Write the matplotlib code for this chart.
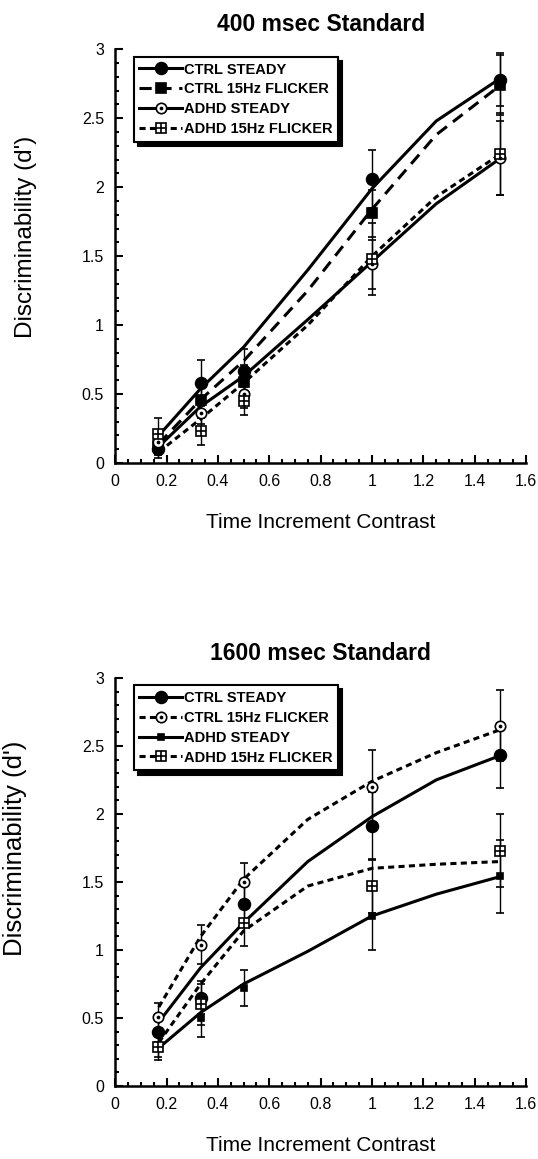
import matplotlib
matplotlib.use("Agg")
import matplotlib.pyplot as plt
from matplotlib.ticker import MultipleLocator, FuncFormatter
from matplotlib.lines import Line2D

plt.rcParams['font.family'] = ['Liberation Sans', 'DejaVu Sans']

# contrast levels (x) where the group means were measured
contrast = [0.167, 0.333, 0.5, 1.0, 1.5]
fit_x = [0.17, 0.333, 0.5, 0.75, 1.0, 1.25, 1.5]

labels_400 = ['CTRL STEADY', 'CTRL 15Hz FLICKER', 'ADHD STEADY', 'ADHD 15Hz FLICKER']
labels_1600 = ['CTRL STEADY', 'CTRL 15Hz FLICKER', 'ADHD STEADY', 'ADHD 15Hz FLICKER']

# 400 msec standard: means, error bars, fitted curves
ctrl_steady_400 = [0.10, 0.58, 0.67, 2.06, 2.78]
ctrl_flick_400 = [0.12, 0.46, 0.59, 1.81, 2.74]
adhd_steady_400 = [0.15, 0.36, 0.50, 1.44, 2.21]
adhd_flick_400 = [0.21, 0.23, 0.45, 1.48, 2.24]

ctrl_steady_err_400 = [0.06, 0.17, 0.16, 0.21, 0.19]
ctrl_flick_err_400 = [0.06, 0.10, 0.12, 0.17, 0.22]
adhd_steady_err_400 = [0.06, 0.08, 0.10, 0.18, 0.27]
adhd_flick_err_400 = [0.12, 0.10, 0.10, 0.26, 0.30]

ctrl_steady_fit_400 = [0.20, 0.54, 0.84, 1.40, 1.99, 2.48, 2.79]
ctrl_flick_fit_400 = [0.14, 0.46, 0.74, 1.25, 1.84, 2.38, 2.74]
adhd_steady_fit_400 = [0.12, 0.41, 0.63, 1.04, 1.46, 1.88, 2.21]
adhd_flick_fit_400 = [0.08, 0.32, 0.58, 1.00, 1.50, 1.93, 2.24]

# 1600 msec standard
ctrl_steady_1600 = [0.40, 0.65, 1.34, 1.91, 2.43]
ctrl_flick_1600 = [0.51, 1.04, 1.50, 2.20, 2.65]
adhd_steady_1600 = [0.29, 0.50, 0.72, 1.25, 1.54]
adhd_flick_1600 = [0.29, 0.60, 1.20, 1.47, 1.73]

ctrl_steady_err_1600 = [0.08, 0.12, 0.14, 0.25, 0.24]
ctrl_flick_err_1600 = [0.10, 0.14, 0.14, 0.27, 0.26]
adhd_steady_err_1600 = [0.08, 0.14, 0.13, 0.25, 0.27]
adhd_flick_err_1600 = [0.10, 0.15, 0.17, 0.20, 0.27]

ctrl_steady_fit_1600 = [0.47, 0.87, 1.20, 1.65, 1.98, 2.25, 2.43]
ctrl_flick_fit_1600 = [0.58, 1.10, 1.52, 1.96, 2.24, 2.45, 2.62]
adhd_steady_fit_1600 = [0.28, 0.54, 0.75, 0.99, 1.25, 1.41, 1.54]
adhd_flick_fit_1600 = [0.32, 0.75, 1.14, 1.47, 1.60, 1.63, 1.65]

# marker styles: (marker, face, size, inner marker, inner size)
FILLED_CIRCLE = ('o', 'black', 8.5, None, 0)
FILLED_SQUARE = ('s', 'black', 6.5, None, 0)
SMALL_SQUARE = ('s', 'black', 5, None, 0)
DOT_CIRCLE = ('o', 'white', 7.5, '.', 3)
CROSS_SQUARE = ('s', 'white', 7.5, '+', 7)

SOLID = '-'
LONG_DASH = (0, (4, 2.5))
SHORT_DASH = (0, (2, 1.4))


def draw_series(ax, y, err, fit, style, ls):
    m, face, ms, inner, ims = style
    ax.plot(fit_x, fit, color='black', lw=2.2, ls=ls, zorder=2)
    ax.errorbar(contrast, y, yerr=err, fmt='none', ecolor='black',
                elinewidth=1, capsize=3, capthick=1.2, zorder=3)
    ax.plot(contrast, y, ls='none', marker=m, mfc=face, mec='black',
            mew=1.2, ms=ms, zorder=4)
    if inner:
        ax.plot(contrast, y, ls='none', marker=inner, color='black',
                ms=ims, mew=1.2, zorder=5)
    h = Line2D([], [], color='black', lw=2.2, ls=ls, marker=m, mfc=face,
               mec='black', mew=1.2, ms=ms)
    if inner:
        h2 = Line2D([], [], ls='none', marker=inner, color='black', ms=ims, mew=1.2)
        return (h, h2)
    return h


def style_axes(ax, title, ylab_size, ylab_x, ylab_y):
    ax.set_xlim(0, 1.6)
    ax.set_ylim(0, 3)
    for s in ['top', 'right']:
        ax.spines[s].set_visible(False)
    for s in ['left', 'bottom']:
        ax.spines[s].set_linewidth(1.8)
    ax.xaxis.set_major_locator(MultipleLocator(0.2))
    ax.xaxis.set_minor_locator(MultipleLocator(0.05))
    ax.yaxis.set_major_locator(MultipleLocator(0.5))
    ax.yaxis.set_minor_locator(MultipleLocator(0.1))
    fmt = FuncFormatter(lambda v, p: '%g' % round(v, 2))
    ax.xaxis.set_major_formatter(fmt)
    ax.yaxis.set_major_formatter(fmt)
    ax.tick_params(which='both', direction='in', width=1.5, labelsize=11.5)
    ax.tick_params(which='major', length=6)
    ax.tick_params(which='minor', length=3)
    ax.tick_params(axis='x', pad=8)
    ax.tick_params(axis='y', pad=8)
    ax.set_title(title, fontsize=16.5, fontweight='bold', pad=13)
    ax.set_xlabel('Time Increment Contrast', fontsize=15)
    ax.set_ylabel("Discriminability (d')", fontsize=ylab_size)
    ax.xaxis.set_label_coords(0.5, -0.122)
    ax.yaxis.set_label_coords(ylab_x, ylab_y)


def add_legend(ax, handles, labels):
    leg = ax.legend(handles, labels, loc='upper left', bbox_to_anchor=(0.045, 0.982),
                    borderaxespad=0, fancybox=False, framealpha=1, edgecolor='black',
                    handlelength=2.9, handletextpad=0.15, labelspacing=0.4,
                    borderpad=0.4, prop={'weight': 'bold', 'size': 10.5},
                    shadow={'color': 'black', 'alpha': 1, 'ox': 3, 'oy': -3})
    leg.get_frame().set_linewidth(1.5)


fig = plt.figure(figsize=(5.38, 11.59), dpi=100)
ax1 = fig.add_axes([0.214, 0.6005, 0.764, 0.357])
ax2 = fig.add_axes([0.214, 0.0630, 0.764, 0.3521])

h = [
    draw_series(ax1, ctrl_steady_400, ctrl_steady_err_400, ctrl_steady_fit_400, FILLED_CIRCLE, SOLID),
    draw_series(ax1, ctrl_flick_400, ctrl_flick_err_400, ctrl_flick_fit_400, FILLED_SQUARE, LONG_DASH),
    draw_series(ax1, adhd_steady_400, adhd_steady_err_400, adhd_steady_fit_400, DOT_CIRCLE, SOLID),
    draw_series(ax1, adhd_flick_400, adhd_flick_err_400, adhd_flick_fit_400, CROSS_SQUARE, SHORT_DASH),
]
style_axes(ax1, '400 msec Standard', 17.5, -0.19, 0.546)
add_legend(ax1, h, labels_400)

h = [
    draw_series(ax2, ctrl_steady_1600, ctrl_steady_err_1600, ctrl_steady_fit_1600, FILLED_CIRCLE, SOLID),
    draw_series(ax2, ctrl_flick_1600, ctrl_flick_err_1600, ctrl_flick_fit_1600, DOT_CIRCLE, SHORT_DASH),
    draw_series(ax2, adhd_steady_1600, adhd_steady_err_1600, adhd_steady_fit_1600, SMALL_SQUARE, SOLID),
    draw_series(ax2, adhd_flick_1600, adhd_flick_err_1600, adhd_flick_fit_1600, CROSS_SQUARE, SHORT_DASH),
]
style_axes(ax2, '1600 msec Standard', 18.5, -0.215, 0.583)
add_legend(ax2, h, labels_1600)

fig.savefig('out.png', dpi=100)
